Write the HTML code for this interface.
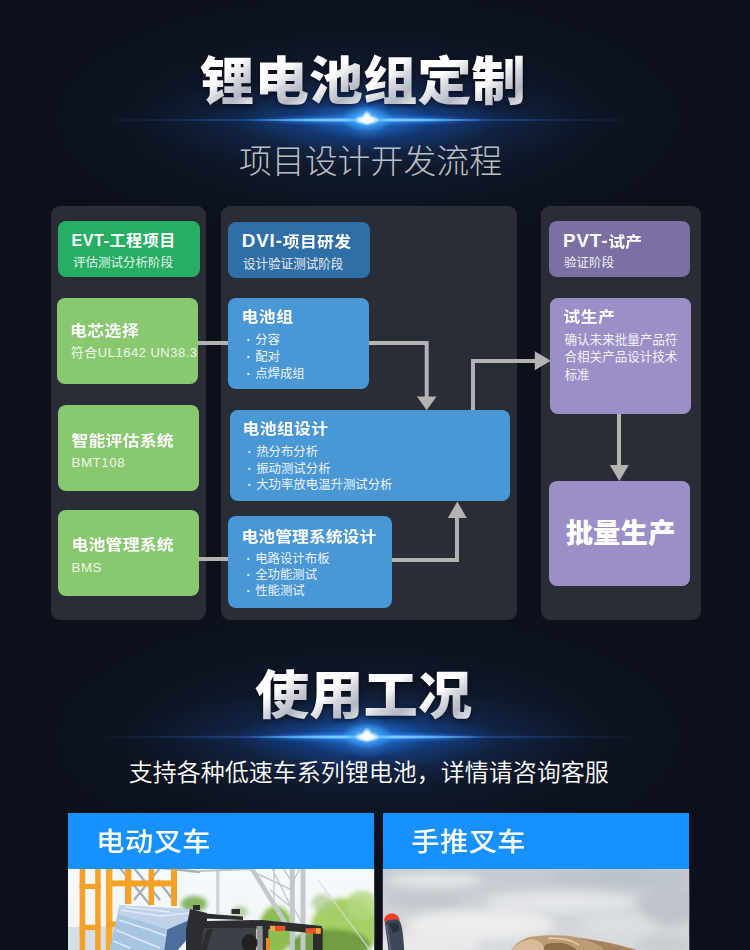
<!DOCTYPE html>
<html lang="zh-CN">
<head>
<meta charset="utf-8">
<title>锂电池组定制</title>
<style>
*{margin:0;padding:0;box-sizing:border-box}
html,body{width:750px;height:950px;overflow:hidden;background:#0c111b}
body{position:relative;font-family:"Liberation Sans","Noto Sans CJK SC",sans-serif;color:#fff}
.abs{position:absolute}
.bg{left:0;top:0;width:750px;height:950px;background:#0b101a}
.h1{width:auto;font-weight:900;font-size:54.3px;line-height:60px;transform:scaleY(.965);transform-origin:50% 50%;white-space:nowrap;
 background:linear-gradient(140deg,#ffffff 0%,#ffffff 38%,#d2d5db 55%,#b4b8c1 72%,#dfe1e6 88%,#f4f5f7 100%) 0 0/54.3px 100% repeat-x;-webkit-background-clip:text;background-clip:text;color:transparent;
 filter:drop-shadow(0 2px 3px rgba(0,0,10,.55))}
.sub1{left:0;width:750px;text-align:center;font-weight:300;font-size:32.6px;line-height:40px;color:#babec5;white-space:nowrap}
.sub2{left:0;width:750px;text-align:center;font-weight:400;font-size:24px;line-height:30px;color:#fff;white-space:nowrap}
.flare{width:900px;height:340px;margin-left:-450px;margin-top:-170px;
 background:
  radial-gradient(ellipse 5px 8px at 50% 49.4%,#fff 0%,rgba(255,255,255,.9) 40%,rgba(255,255,255,0) 100%),
  radial-gradient(ellipse 13px 5px at 50% 50%,#fff 0%,rgba(235,250,255,.95) 50%,rgba(255,255,255,0) 100%),
  radial-gradient(ellipse 26px 13px at 50% 49.7%,rgba(150,225,255,.95),rgba(70,170,255,.6) 50%,rgba(30,120,235,0) 100%),
  radial-gradient(ellipse 120px 2.2px at 50% 50%,rgba(170,230,255,1),rgba(110,195,255,.9) 50%,rgba(80,160,250,0) 100%),
  radial-gradient(ellipse 300px 1.4px at 50% 50%,rgba(120,190,255,1),rgba(60,140,245,.8) 30%,rgba(45,110,200,.38) 55%,rgba(40,95,175,.16) 80%,rgba(30,90,180,0) 100%),
  radial-gradient(ellipse 120px 6px at 50% 50%,rgba(50,150,255,.75),rgba(30,100,220,0) 100%),
  radial-gradient(circle 24px at 50% 49.6%,rgba(90,185,255,.55),rgba(50,140,245,.22) 55%,rgba(30,110,220,0) 100%),
  radial-gradient(ellipse 60px 20px at 50% 50%,rgba(40,140,245,.45),rgba(30,110,220,0) 100%),
  radial-gradient(ellipse 190px 13px at 50% 50%,rgba(20,90,205,.42),rgba(15,70,170,.14) 60%,rgba(10,50,140,0) 100%),
  radial-gradient(ellipse 130px 34px at 50% 50%,rgba(30,110,215,.62),rgba(22,85,180,.3) 55%,rgba(15,60,140,0) 100%),
  radial-gradient(ellipse 230px 50px at 50% 50%,rgba(22,80,170,.35),rgba(15,60,140,0) 100%),
  radial-gradient(ellipse 280px 95px at 50% 50%,rgba(24,58,115,.34),rgba(20,46,92,.15) 55%,rgba(12,30,70,0) 100%),
  radial-gradient(ellipse 400px 160px at 50% 50%,rgba(40,62,100,.20),rgba(30,48,80,.08) 60%,rgba(20,30,60,0) 100%)}
.panel{background:#292d36;border-radius:9px}
.box{border-radius:8px}
.t{font-weight:700;font-size:16.85px;line-height:20px;white-space:nowrap;color:#fff;transform:scaleY(.89);transform-origin:0 50%}
.s{font-weight:400;font-size:12.5px;line-height:16px;white-space:nowrap;color:rgba(255,255,255,.9)}
.li{font-weight:400;font-size:12.4px;line-height:16px;white-space:nowrap;color:rgba(255,255,255,.92)}
.lat{font-size:18.8px;letter-spacing:.85px}
.cj{display:inline-block;transform:scaleY(.89);transform-origin:0 60%}
.li i{display:inline-block;width:9.2px;text-indent:.6px;font-style:normal;font-weight:700;text-align:left}
</style>
</head>
<body>
<div class="abs bg"></div>

<!-- Title 1 -->
<div class="abs flare" style="left:367px;top:119.7px"></div>
<div class="abs flare" style="left:367px;top:737px"></div>
<div class="abs h1" style="top:52.5px;left:200.1px">锂电池组定制</div>
<div class="abs sub1" style="top:141.8px;left:-4.5px;font-size:32.9px">项目设计开发流程</div>

<!-- Panels -->
<div class="abs panel" style="left:51px;top:206px;width:155px;height:414px"></div>
<div class="abs panel" style="left:221px;top:206px;width:296px;height:414px"></div>
<div class="abs panel" style="left:541px;top:206px;width:160px;height:414px"></div>

<!-- connectors -->
<svg class="abs" style="left:0;top:0" width="750" height="950" viewBox="0 0 750 950">
 <g fill="none" stroke="#b3b3b3" stroke-width="4">
  <path d="M198 343H228"/>
  <path d="M369 343H426.7V398"/>
  <path d="M198 559H228"/>
  <path d="M392 560H457V517"/>
  <path d="M473 410V361H537"/>
  <path d="M619 413V466"/>
 </g>
 <g fill="#b3b3b3">
  <path d="M416.9 396.6H436.5L426.7 410.2Z"/>
  <path d="M447.8 518H466.8L457.3 501.5Z"/>
  <path d="M534.8 351.3V370.3L550.8 360.8Z"/>
  <path d="M609.8 465H628.8L619.3 481Z"/>
 </g>
</svg>

<!-- Left column -->
<div class="abs box" style="left:58px;top:221px;width:141.6px;height:56.4px;background:#27ae62"></div>
<div class="abs t" style="left:71.5px;top:230.5px;font-size:16px;letter-spacing:.6px;transform:none">EVT-工程项目</div>
<div class="abs s" style="left:73px;top:254.5px">评估测试分析阶段</div>

<div class="abs box" style="left:57.3px;top:298px;width:140.8px;height:86px;background:#88c86e"></div>
<div class="abs t" style="left:70px;top:321.6px;letter-spacing:.45px">电芯选择</div>
<div class="abs s" style="left:70.8px;top:345.3px;font-weight:400;font-size:13px;letter-spacing:.5px;color:rgba(255,255,255,.88)">符合UL1642 UN38.3</div>

<div class="abs box" style="left:58px;top:405px;width:141px;height:86px;background:#88c86e"></div>
<div class="abs t" style="left:71.5px;top:431.8px;letter-spacing:.2px">智能评估系统</div>
<div class="abs s" style="left:71.5px;top:454.5px;font-weight:400;font-size:13.4px;letter-spacing:.5px;color:rgba(255,255,255,.88)">BMT108</div>

<div class="abs box" style="left:58px;top:510px;width:141px;height:86px;background:#88c86e"></div>
<div class="abs t" style="left:71.5px;top:535.9px;letter-spacing:.2px">电池管理系统</div>
<div class="abs s" style="left:71.5px;top:559.5px;font-weight:400;font-size:13.4px;letter-spacing:.5px;color:rgba(255,255,255,.88)">BMS</div>

<!-- Middle column -->
<div class="abs box" style="left:228px;top:221.8px;width:142.2px;height:55.8px;background:#2f6ea6"></div>
<div class="abs t" style="left:241.8px;top:231.1px;font-size:16.8px;letter-spacing:.35px;transform:none"><span class="lat">DVI-</span><span class="cj">项目研发</span></div>
<div class="abs s" style="left:243px;top:255.8px;font-size:12.55px">设计验证测试阶段</div>

<div class="abs box" style="left:228px;top:298px;width:141px;height:91px;background:#4a97d5"></div>
<div class="abs t" style="left:241.5px;top:308px;letter-spacing:.5px">电池组</div>
<div class="abs li" style="left:246px;top:331.5px"><i>·</i>分容</div>
<div class="abs li" style="left:246px;top:348.8px"><i>·</i>配对</div>
<div class="abs li" style="left:246px;top:366px"><i>·</i>点焊成组</div>

<div class="abs box" style="left:230px;top:409.7px;width:279.5px;height:91.3px;background:#4a97d5"></div>
<div class="abs t" style="left:242.5px;top:420.2px;letter-spacing:.35px">电池组设计</div>
<div class="abs li" style="left:247px;top:443.5px"><i>·</i>热分布分析</div>
<div class="abs li" style="left:247px;top:460.8px"><i>·</i>振动测试分析</div>
<div class="abs li" style="left:247px;top:477px"><i>·</i>大功率放电温升测试分析</div>

<div class="abs box" style="left:228px;top:516px;width:164px;height:91.5px;background:#4a97d5"></div>
<div class="abs t" style="left:241.5px;top:527.5px">电池管理系统设计</div>
<div class="abs li" style="left:246px;top:550.5px"><i>·</i>电路设计布板</div>
<div class="abs li" style="left:246px;top:567px"><i>·</i>全功能测试</div>
<div class="abs li" style="left:246px;top:583.3px"><i>·</i>性能测试</div>

<!-- Right column -->
<div class="abs box" style="left:549px;top:221px;width:141px;height:56px;background:#7b6fa3"></div>
<div class="abs t" style="left:563.1px;top:230.5px;font-size:16.8px;letter-spacing:.2px;transform:none"><span class="lat">PVT-</span><span class="cj">试产</span></div>
<div class="abs s" style="left:564px;top:254.5px">验证阶段</div>

<div class="abs box" style="left:550px;top:298px;width:141px;height:116px;background:#9c8ec7"></div>
<div class="abs t" style="left:563.3px;top:307.8px;letter-spacing:.5px">试生产</div>
<div class="abs s" style="left:564.5px;top:332.2px;line-height:17.2px;white-space:normal;width:116px;font-size:12.55px">确认未来批量产品符合相关产品设计技术标准</div>

<div class="abs box" style="left:549px;top:481px;width:141px;height:105px;background:#9c8ec7"></div>
<div class="abs" style="left:549px;top:516.3px;width:143px;text-align:center;font-weight:900;font-size:27.4px;line-height:36px;white-space:nowrap">批量生产</div>

<!-- Title 2 -->
<div class="abs h1" style="top:666.5px;left:254.9px">使用工况</div>
<div class="abs sub2" style="top:757.5px;left:-6.2px;font-weight:350">支持各种低速车系列锂电池，详情请咨询客服</div>

<!-- Cards -->
<svg class="abs" style="left:0;top:0" width="750" height="950" viewBox="0 0 750 950">
 <defs>
  <clipPath id="c1"><rect x="68" y="868.6" width="306.2" height="82"/></clipPath>
  <clipPath id="c2"><rect x="382.8" y="868.6" width="306.4" height="82"/></clipPath>
  <linearGradient id="sky1" x1="0" y1="0" x2="0" y2="1"><stop offset="0" stop-color="#f7fafc"/><stop offset="1" stop-color="#eef3f6"/></linearGradient>
  <linearGradient id="sky2" x1="0" y1="0" x2="0" y2="1"><stop offset="0" stop-color="#c4c9d0"/><stop offset=".5" stop-color="#ced2d7"/><stop offset="1" stop-color="#d8dbdf"/></linearGradient>
  <filter id="bl2"><feGaussianBlur stdDeviation="2"/></filter>
  <filter id="bl5"><feGaussianBlur stdDeviation="5"/></filter>
  <filter id="bl1"><feGaussianBlur stdDeviation=".7"/></filter>
 </defs>
 <!-- forklift photo -->
 <g clip-path="url(#c1)">
  <rect x="68" y="868" width="307" height="83" fill="url(#sky1)"/>
  <!-- distant building -->
  <rect x="68" y="927" width="60" height="23" fill="#d6dfe5"/>
  <!-- trees -->
  <g filter="url(#bl2)">
   <ellipse cx="194" cy="904" rx="13" ry="8" fill="#86b565"/>
   <ellipse cx="276" cy="930" rx="17" ry="24" fill="#8dbd4f"/>
   <ellipse cx="345" cy="928" rx="34" ry="30" fill="#9dcb58" opacity=".9"/>
   <ellipse cx="330" cy="945" rx="40" ry="16" fill="#6f9e3f"/>
   <ellipse cx="362" cy="905" rx="16" ry="14" fill="#b4d87e" opacity=".85"/>
   <ellipse cx="322" cy="903" rx="10" ry="9" fill="#a9c98a" opacity=".7"/>
   <ellipse cx="240" cy="912" rx="8" ry="6" fill="#9fc482" opacity=".7"/>
  </g>
  <!-- steel truss -->
  <g stroke="#c2c8cc" fill="none" filter="url(#bl1)">
   <path d="M217.8 868V914" stroke-width="3.6" stroke="#cfd5d9"/>
   <path d="M251.5 868L286 924" stroke-width="4.6"/>
   <path d="M292.3 868V950" stroke-width="5"/>
   <path d="M303 868V950" stroke-width="5"/>
   <path d="M258 874L292 890M272 868L290 905M274 868V905M283 868L292 882M300 868L292 884M292 905L303 925M270 890L292 908" stroke-width="1.4"/>
   <path d="M134 868L160 900M160 868L134 900M158 880L176 904M120 868L150 905M162 868L200 872" stroke-width="2.4" stroke="#a9b1b5"/>
   <path d="M200 871L250 869" stroke-width="2" stroke="#bcc4c8"/>
   <path d="M318 880L370 950" stroke-width="1.2" stroke="#d5dadc"/>
  </g>
  <!-- orange scaffold -->
  <g fill="#f5a027">
   <rect x="79.6" y="868" width="5.6" height="83"/>
   <rect x="95.2" y="868" width="5.4" height="83"/>
   <rect x="79.6" y="883.8" width="21" height="5.2"/>
   <rect x="79.6" y="924.7" width="21" height="5.3"/>
   <rect x="125" y="868" width="6.4" height="36"/>
   <rect x="148.5" y="868" width="5.6" height="37"/>
   <rect x="171" y="868" width="6" height="38"/>
   <rect x="106" y="880.4" width="71" height="6"/>
   <rect x="105.9" y="868" width="6.5" height="83" fill="#f7aa2c"/>
   <rect x="106" y="921.5" width="12" height="5.5"/>
  </g>
  <!-- wrapped pallet -->
  <path d="M119.2 905.2L194.4 909.4L192 919L189.6 936.6L176.8 951H109.4L115.5 925Z" fill="#b2c9e5"/>
  <path d="M119.2 905.2L194.4 909.4L192 919L167.2 929.4L140 921L118.5 915Z" fill="#bfd2ea"/>
  <path d="M167.2 929.4L192 919L189.6 936.6L176.8 951H164Z" fill="#4b6e9a"/>
  <path d="M118.5 915L140 921L167.2 929.4L164 951H109.4L115.5 925Z" fill="#a9c3e2"/>
  <g stroke="#e6eff8" stroke-width="1.6" fill="none" opacity=".85" filter="url(#bl1)">
   <path d="M121 910L160 916L190 913M119 920L150 930L166 936M116 930L140 940L160 948M113 941L130 948M125 907L170 912"/>
  </g>
  <!-- forklift -->
  <g fill="#2b2d30">
   <path d="M190 909L207 913V951H186V930Z"/>
   <path d="M193 905H200V910H193Z"/>
   <path d="M205 913.5L243 916.5V920L205 918.5Z"/>
   <path d="M206 921L262 920L322 926V934L262 928.5L212 930L200 951H190Z"/>
   <rect x="313" y="928" width="9.7" height="23"/>
   <path d="M204 928H256V951H200Z" fill="#3c4147"/>
   <path d="M207 929L213 929L206 951H200Z" fill="#2b2d30"/>
   <rect x="256.6" y="926" width="6" height="25" fill="#8f9396"/>
   <rect x="262.6" y="926" width="5.8" height="25" fill="#2b2d30"/>
   <ellipse cx="249.5" cy="943" rx="8" ry="9" fill="#24211f"/>
   <rect x="231" y="868" width="2" height="0"/>
   <path d="M231.5 909H240V914H231.5Z"/>
  </g>
  <rect x="270" y="925.8" width="15.4" height="5.2" fill="#e9532a"/>
  <rect x="270" y="925.8" width="5" height="5.2" fill="#f5a340"/>
  <rect x="305.7" y="928.2" width="15" height="5.5" fill="#e9532a"/>
  <rect x="316" y="928.2" width="4.7" height="5.5" fill="#f5a340"/>
  <rect x="266" y="938" width="4" height="13" fill="#e98a1c"/>
 </g>
 <!-- pallet-jack photo -->
 <g clip-path="url(#c2)">
  <rect x="382" y="868" width="308" height="83" fill="url(#sky2)"/>
  <g filter="url(#bl5)">
   <ellipse cx="435" cy="880" rx="48" ry="7" fill="#e4e6e9"/>
   <ellipse cx="560" cy="902" rx="75" ry="11" fill="#e3e5e8"/>
   <ellipse cx="480" cy="925" rx="75" ry="15" fill="#eceded"/>
   <ellipse cx="430" cy="945" rx="50" ry="12" fill="#e8e9eb"/>
   <ellipse cx="620" cy="925" rx="40" ry="12" fill="#dcdee1"/>
   <ellipse cx="620" cy="878" rx="70" ry="9" fill="#bcc2ca"/>
   <ellipse cx="670" cy="905" rx="30" ry="20" fill="#bfc4cb"/>
   <ellipse cx="425" cy="900" rx="38" ry="7" fill="#c2c7ce"/>
   <ellipse cx="665" cy="945" rx="30" ry="10" fill="#c9cdd2"/>
  </g>
  <!-- elephant back -->
  <g filter="url(#bl1)">
   <path d="M511 951C514 945 520 939.5 530 937C545 934.5 565 934.5 578 937.5C600 940 625 946 640 951Z" fill="#bd9b74"/>
   <path d="M511 951C514 946 520 941 531 939C540 940 545 945 544 951Z" fill="#d6bc9a"/>
   <path d="M580 938.5C602 941 624 946.5 640 951H606C601 946 592 941 580 938.5Z" fill="#a5825d"/>
   <path d="M545 945C555 941 569 942 578 951H543Z" fill="#8f6d4b"/>
   <path d="M548 938.5C560 937.5 571 939.5 579 945" stroke="#e3cfb0" stroke-width="1.4" fill="none"/>
  </g>
  <!-- handle -->
  <path d="M384.3 922C383.6 917 387 913.8 391.5 913.6C396 913.5 399 916 399.6 920L397 921.5H385.5Z" fill="#e8402a"/>
  <path d="M384.8 922.5C387 919.5 396 918.8 399.5 920.5C402 925 403.5 935 404.2 951H388.5C387.5 940 385.5 930 384.8 922.5Z" fill="#3c4757"/>
  <path d="M389 923.5L397.5 922.5L399.5 930L393 933Z" fill="#2a3240"/>
  <path d="M386.5 925C388 935 389.5 943 390.5 951" stroke="#66728a" stroke-width="1.2" fill="none"/>
 </g>
</svg>
<div class="abs" style="left:68px;top:812.6px;width:306.2px;height:56px;background:#1691ff"></div>
<div class="abs" style="left:96.3px;top:822.8px;font-size:28.2px;line-height:36px;font-weight:500;white-space:nowrap;letter-spacing:.5px;transform:scaleY(.94);transform-origin:0 80%">电动叉车</div>
<div class="abs" style="left:382.8px;top:812.6px;width:306.4px;height:56px;background:#1691ff"></div>
<div class="abs" style="left:411.3px;top:822.8px;font-size:28.2px;line-height:36px;font-weight:500;white-space:nowrap;letter-spacing:.5px;transform:scaleY(.94);transform-origin:0 80%">手推叉车</div>
</body>
</html>
